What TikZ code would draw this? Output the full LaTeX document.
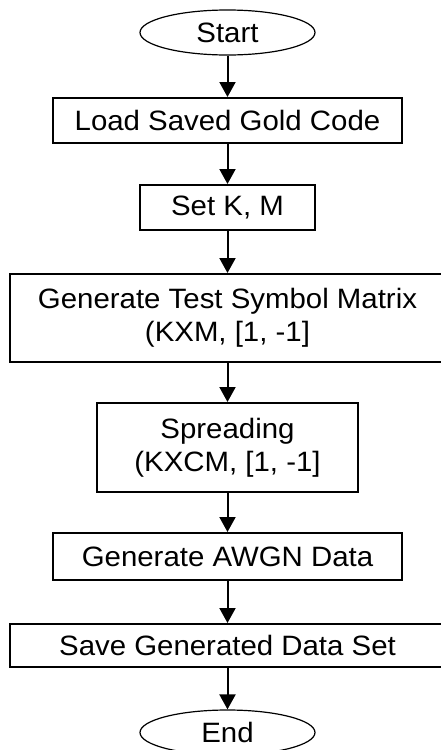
\documentclass[tikz,border=0pt]{standalone}
\usepackage{fontspec}
\setmainfont[FakeStretch=1.05]{Liberation Sans}
\usetikzlibrary{shapes.geometric,arrows.meta}
\tikzset{
  procbox/.style={draw, line width=2pt, inner sep=0pt, align=center, font=\fontsize{28}{33}\selectfont},
  termnode/.style={ellipse, draw, line width=1.2pt, inner sep=0pt, minimum width=175pt, minimum height=45pt, font=\fontsize{28}{33}\selectfont},
  flowarrow/.style={line width=2pt, -{Triangle[width=16pt,length=15pt]}}
}
\begin{document}
\begin{tikzpicture}[x=1pt,y=-1pt]
\useasboundingbox (0,0) rectangle (441,750);
\node[termnode] (start) at (227.5,32.5){Start};
\node[procbox, minimum width=349pt, minimum height=45pt] (load) at (227.5,120.5){Load Saved Gold Code};
\node[procbox, minimum width=175pt, minimum height=45pt] (setkm) at (227.5,207.5){Set K, M};
\node[procbox, minimum width=435pt, minimum height=88pt] (gentest) at (227.5,318){Generate Test Symbol Matrix\\(KXM, [1, -1]};
\node[procbox, minimum width=261pt, minimum height=89pt] (spread) at (227.5,447.5){Spreading\\(KXCM, [1, -1]};
\node[procbox, minimum width=349pt, minimum height=47pt] (awgn) at (227.5,556.5){Generate AWGN Data};
\node[procbox, minimum width=435pt, minimum height=43pt] (save) at (227.5,645.5){Save Generated Data Set};
\node[termnode] (end) at (227.5,732.5){End};
\draw[flowarrow](start) -- (load);
\draw[flowarrow](load) -- (setkm);
\draw[flowarrow](setkm) -- (gentest);
\draw[flowarrow](gentest) -- (spread);
\draw[flowarrow](spread) -- (awgn);
\draw[flowarrow](awgn) -- (save);
\draw[flowarrow](save) -- (end);
\end{tikzpicture}
\end{document}
